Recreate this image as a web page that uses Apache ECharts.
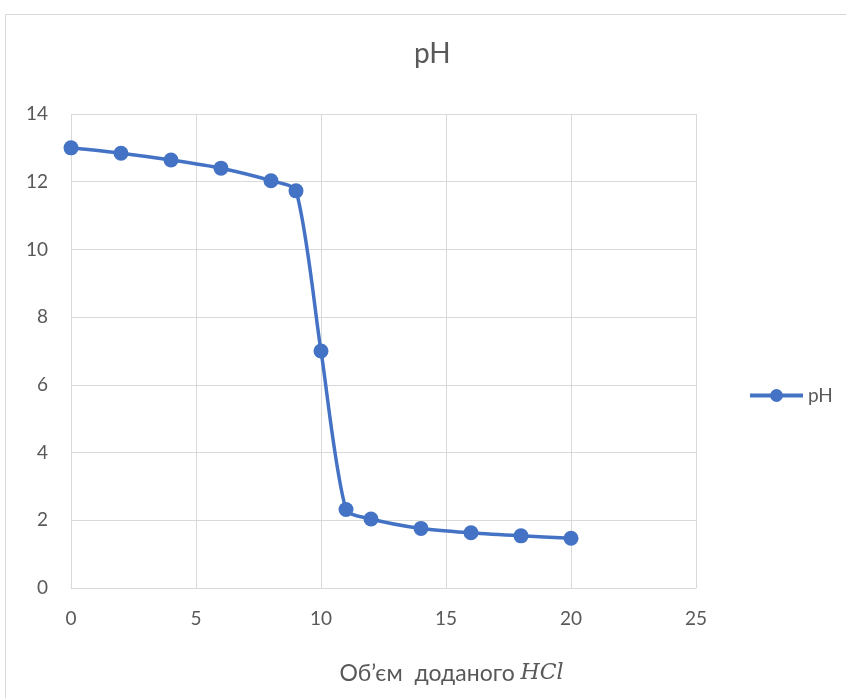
<!DOCTYPE html>
<html><head><meta charset="utf-8">
<script src="https://cdn.jsdelivr.net/npm/echarts@6/dist/echarts.min.js"></script>
<style>html,body{margin:0;padding:0;background:#fff}#c{width:846px;height:698px}</style>
</head><body><div id="c"></div>
<script>
const volumes = [0, 2, 4, 6, 8, 9, 10, 11, 12, 14, 16, 18, 20];
const phValues = [13.0, 12.84, 12.64, 12.4, 12.03, 11.73, 7.0, 2.32, 2.04, 1.76, 1.63, 1.54, 1.47];
const seriesName = 'pH';
const titleText = 'pH';
const xName = 'Об’єм  доданого ';
const xNameMath = 'HCl';

const chart = echarts.init(document.getElementById('c'));
const txt = '#595959';
const ff = 'Lato, "Noto Sans", sans-serif';
chart.setOption({
  animation: false,
  backgroundColor: '#fff',
  title: { text: titleText, left: 414, top: 40, padding: 0, textStyle: { color: txt, fontSize: 28, fontWeight: 'normal', fontFamily: ff } },
  graphic: [{ type: 'rect', shape: { x: 5.5, y: 14.5, width: 900, height: 800 }, style: { fill: 'none', stroke: '#d9d9d9', lineWidth: 1 }, silent: true }],
  legend: {
    left: 748, top: 386, padding: 0, itemWidth: 53, itemHeight: 16, itemGap: 5,
    lineStyle: { width: 4 },
    textStyle: { color: txt, fontSize: 19, fontFamily: ff, padding: [0, 0, 0, 0] },
    data: [seriesName]
  },
  grid: { left: 71, right: 150, top: 114, bottom: 110, containLabel: false },
  xAxis: {
    type: 'value', min: 0, max: 25, interval: 5,
    name: xName + '{m|' + xNameMath + '}', nameLocation: 'middle', nameGap: 74,
    nameTextStyle: { color: txt, fontSize: 23, fontFamily: ff, padding: [0, 0, 0, 136], rich: { m: { fontFamily: '"DejaVu Serif", serif', fontStyle: 'italic', fontSize: 22, color: txt } } },
    axisLine: { show: true, lineStyle: { color: '#d9d9d9', width: 1 } },
    axisTick: { show: false },
    axisLabel: { color: txt, fontSize: 19, fontFamily: ff, margin: 21 },
    splitLine: { show: true, lineStyle: { color: '#d9d9d9', width: 1 } }
  },
  yAxis: {
    type: 'value', min: 0, max: 14, interval: 2,
    axisLine: { show: false }, axisTick: { show: false },
    axisLabel: { color: txt, fontSize: 19, fontFamily: ff, margin: 23 },
    splitLine: { show: true, lineStyle: { color: '#d9d9d9', width: 1 } }
  },
  series: [{
    name: seriesName, type: 'line', smooth: 0.25,
    data: volumes.map((v, i) => [v, phValues[i]]),
    symbol: 'circle', symbolSize: 15,
    lineStyle: { color: '#4472C4', width: 3.5 },
    itemStyle: { color: '#4472C4' }
  }]
});
</script></body></html>
